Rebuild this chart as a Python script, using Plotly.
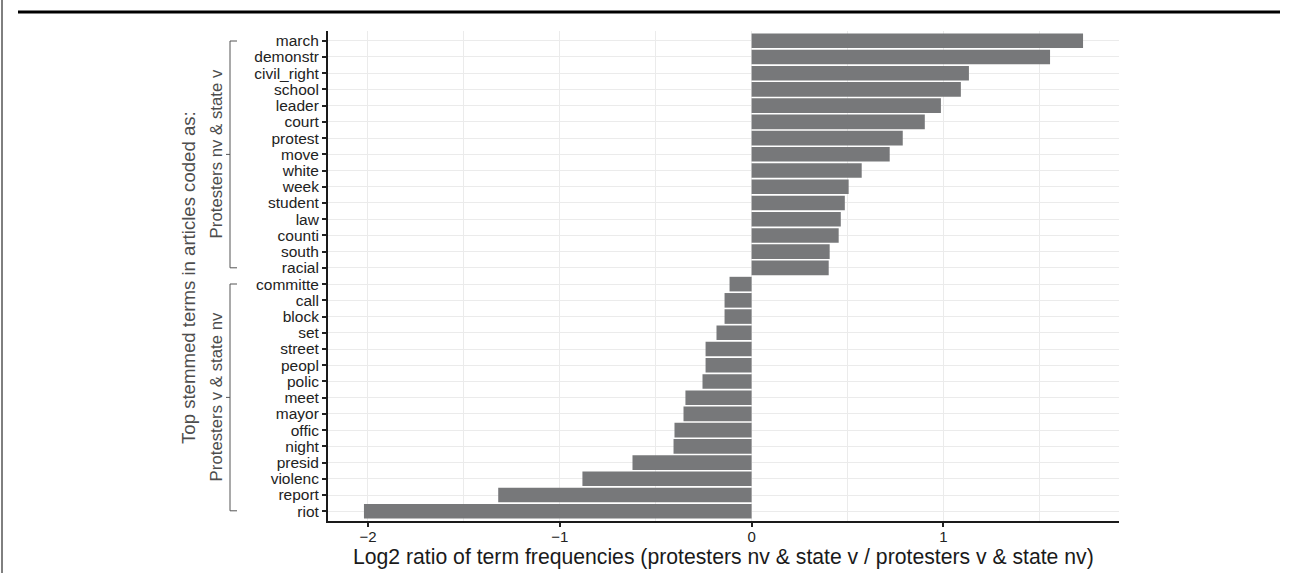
import plotly.graph_objects as go

terms = ["march", "demonstr", "civil_right", "school", "leader", "court", "protest",
         "move", "white", "week", "student", "law", "counti", "south", "racial",
         "committe", "call", "block", "set", "street", "peopl", "polic", "meet",
         "mayor", "offic", "night", "presid", "violenc", "report", "riot"]
log2_ratio = [1.728, 1.556, 1.133, 1.091, 0.987, 0.903, 0.788,
              0.720, 0.574, 0.506, 0.486, 0.465, 0.454, 0.407, 0.402,
              -0.115, -0.141, -0.141, -0.183, -0.240, -0.240, -0.256, -0.345,
              -0.355, -0.402, -0.407, -0.621, -0.882, -1.321, -2.021]
x_tickvals = [-2, -1, 0, 1]
x_ticktext = ["\u22122", "\u22121", "0", "1"]
group_labels = ["Protesters nv & state v", "Protesters v & state nv"]
x_title = "Log2 ratio of term frequencies (protesters nv & state v / protesters v & state nv)"
y_title = "Top stemmed terms in articles coded as:"

W, H = 1290, 573
OFF = 0  # page body margin removed via post_script
L, R, T, B = 328 - OFF, 1119 - OFF, 31 - OFF, 521 - OFF  # plot area in figure pixels
FONT = "Liberation Sans, Arial, Helvetica, sans-serif"
GRID = "#ebebeb"


def px(xp):
    # xp: target screen pixel
    return (xp - OFF - L) / (R - L)


def py(yp):
    return (B - (yp - OFF)) / (B - T)


fig = go.Figure(go.Bar(
    x=log2_ratio, y=terms, orientation="h", width=0.9,
    marker=dict(color="#77787a", line=dict(width=0)),
    hoverinfo="skip",
))

n = len(terms)
lo = min(log2_ratio)
hi = max(log2_ratio)
pad = (hi - lo) * 0.05

fig.update_layout(
    width=W, height=H,
    margin=dict(l=L, r=W - R, t=T, b=H - B, pad=0),
    paper_bgcolor="white", plot_bgcolor="white",
    font=dict(family=FONT, color="#1a1a1a"),
    showlegend=False,
    bargap=0.1,
)
fig.update_xaxes(
    range=[lo - pad, hi + pad],
    tickmode="array", tickvals=x_tickvals, ticktext=x_ticktext,
    tickfont=dict(size=15, color="#222222"),
    ticks="outside", ticklen=4, tickwidth=1.5, tickcolor="#222222",
    ticklabelstandoff=-3,
    showline=True, linecolor="#1a1a1a", linewidth=2,
    showgrid=True, gridcolor=GRID, gridwidth=1.3,
    zeroline=False,
    minor=dict(tickvals=[-1.5, -0.5, 0.5, 1.5], showgrid=True,
               gridcolor=GRID, gridwidth=1, ticks=""),
)
fig.update_yaxes(
    type="category", categoryorder="array", categoryarray=terms,
    tickmode="array", tickvals=terms, ticktext=terms,
    range=[n - 1 + 0.6, -0.6],
    tickfont=dict(size=15.5, color="#222222"),
    ticks="outside", ticklen=4, tickwidth=1.5, tickcolor="#222222",
    showline=True, linecolor="#1a1a1a", linewidth=2,
    showgrid=True, gridcolor=GRID, gridwidth=1.3,
    zeroline=False,
)

shapes = []
annotations = []
BR = "#555555"
groups = [(0, 14), (15, 29)]
for (a, b), lab in zip(groups, group_labels):
    ya = py(41 + a * 16.2)
    yb = py(41 + b * 16.2)
    ym = (ya + yb) / 2
    shapes.append(dict(type="line", xref="paper", yref="paper",
                       x0=px(230), x1=px(230), y0=ya, y1=yb,
                       line=dict(color=BR, width=1)))
    for yy in (ya, yb):
        shapes.append(dict(type="line", xref="paper", yref="paper",
                           x0=px(230), x1=px(237), y0=yy, y1=yy,
                           line=dict(color=BR, width=1)))
    shapes.append(dict(type="line", xref="paper", yref="paper",
                       x0=px(226), x1=px(230), y0=ym, y1=ym,
                       line=dict(color=BR, width=1)))
    annotations.append(dict(text=lab, xref="paper", yref="paper",
                            x=px(216), y=ym, xanchor="center", yanchor="middle",
                            textangle=-90, showarrow=False,
                            font=dict(size=16.8, color="#4d4d4d", family=FONT)))

annotations.append(dict(text=y_title, xref="paper", yref="paper",
                        x=px(188), y=py(278), xanchor="center", yanchor="middle",
                        textangle=-90, showarrow=False,
                        font=dict(size=18.6, color="#4d4d4d", family=FONT)))
annotations.append(dict(text=x_title, xref="paper", yref="paper",
                        x=0.5, y=py(557), xanchor="center", yanchor="middle",
                        showarrow=False,
                        font=dict(size=21.2, color="#1a1a1a", family=FONT)))

# page decorations (frame lines)
shapes.append(dict(type="line", xref="paper", yref="paper",
                   x0=px(18), x1=px(1280), y0=py(12), y1=py(12),
                   line=dict(color="black", width=3)))
shapes.append(dict(type="line", xref="paper", yref="paper",
                   x0=px(2), x1=px(2), y0=py(0), y1=py(573),
                   line=dict(color="black", width=1)))

fig.update_layout(shapes=shapes, annotations=annotations)

fig.write_html("out.html", config={"displayModeBar": False},
               post_script="document.body.style.margin='0';")
